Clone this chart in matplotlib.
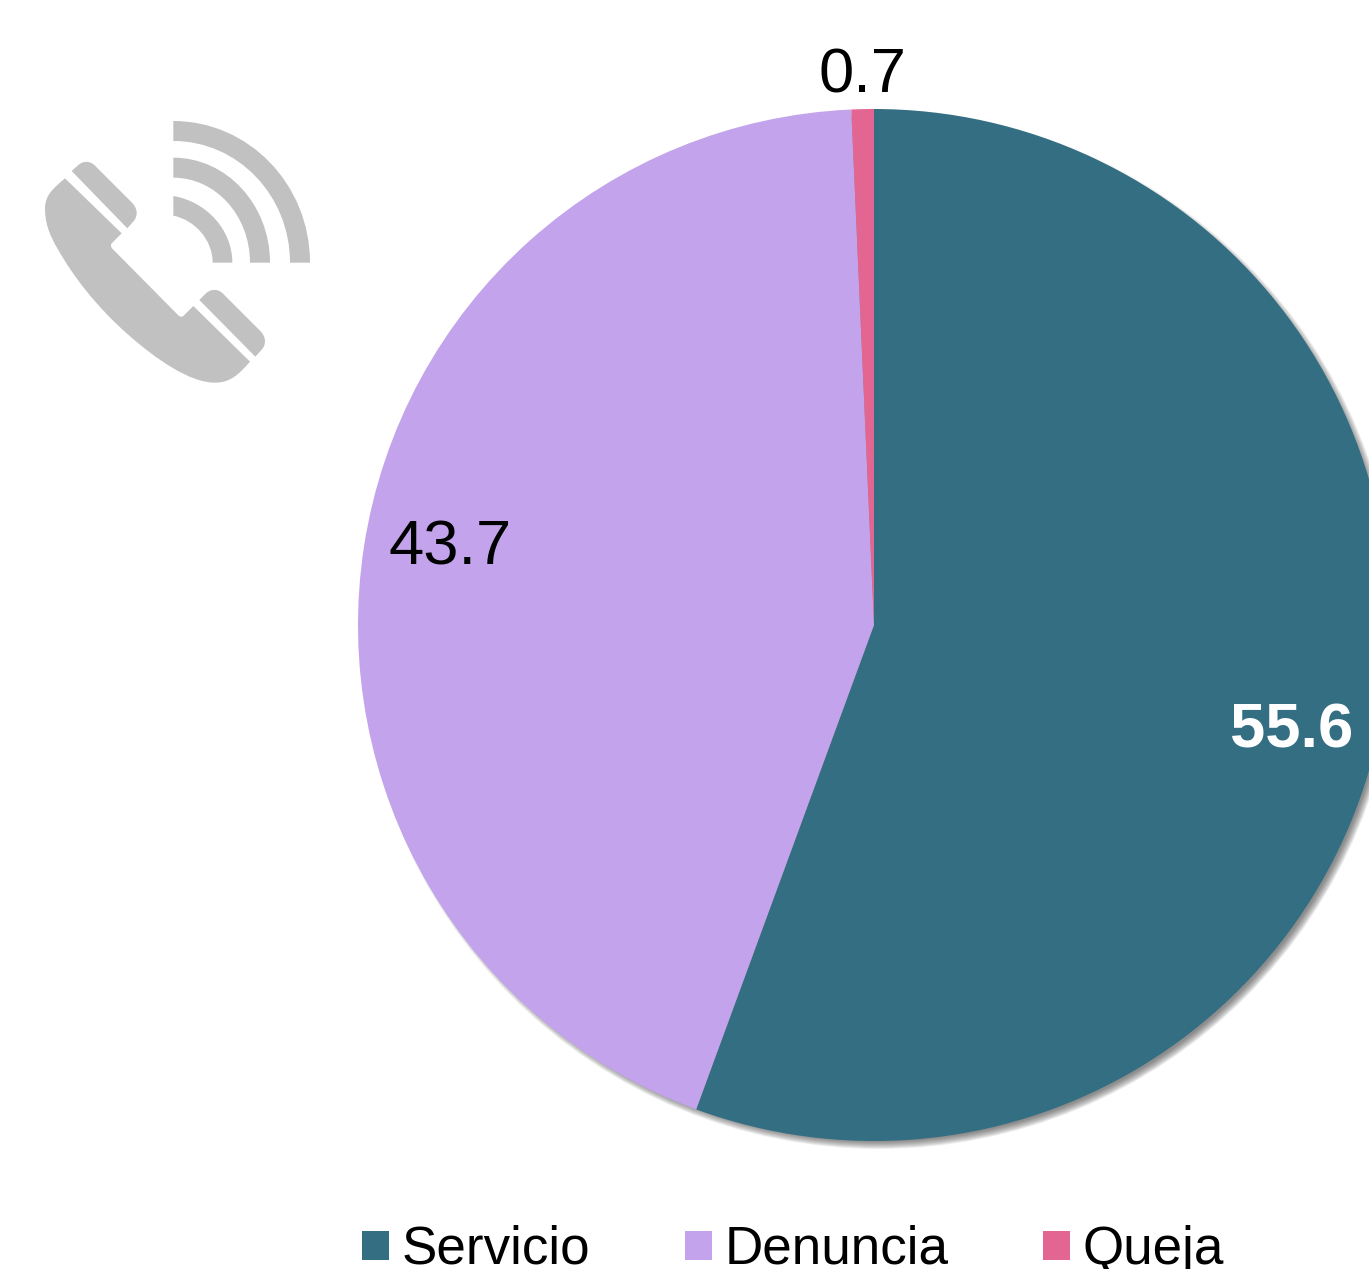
import matplotlib
matplotlib.use("Agg")
import matplotlib.pyplot as plt
from matplotlib.patches import Circle, PathPatch
from matplotlib.path import Path

categories = ["Servicio", "Denuncia", "Queja"]
values = [55.6, 43.7, 0.7]
colors = ["#336E82", "#C2A3EC", "#E36692"]

W, H = 1369, 1269
plt.rcParams['font.family'] = ['Liberation Sans', 'DejaVu Sans']

fig = plt.figure(figsize=(W / 100, H / 100), dpi=100)
ax = fig.add_axes([0, 0, 1, 1])


def py(y):
    # pixel y (from the top) to data y
    return H - y


# soft shadow under the pie
cx, cy, r = 874, py(625), 516
for i in range(12):
    ax.add_patch(Circle((cx + 5, cy - 5), r + 3 - i * 0.7,
                        color="#444444", alpha=0.07, lw=0, zorder=1))

wedges, _ = ax.pie(values, colors=colors, startangle=90, counterclock=False,
                   center=(cx, cy), radius=r, wedgeprops={"linewidth": 0, "zorder": 2})
ax.set_xlim(0, W)
ax.set_ylim(0, H)
ax.set_aspect("auto")
ax.axis("off")

# value labels
ax.text(1292, py(731), f"{values[0]:.1f}", color="white", fontsize=45.5, fontweight="bold",
        ha="center", va="center", zorder=5)
ax.text(450, py(548), f"{values[1]:.1f}", color="black", fontsize=45.5,
        ha="center", va="center", zorder=5)
ax.text(862, py(76), f"{values[2]:.1f}", color="black", fontsize=45.5,
        ha="center", va="center", zorder=5)

ax.legend(wedges, categories, ncol=3, frameon=False, fontsize=38.2,
          loc="lower left", bbox_to_anchor=(362 / W, -6 / H), bbox_transform=ax.transAxes,
          borderpad=0, borderaxespad=0, handlelength=0.51, handleheight=0.46,
          handletextpad=0.24, columnspacing=1.78, labelspacing=0)


def z(x, y):
    return (30 + x / 3, py(100 + y / 3))


def icon(cmds):
    verts, codes = [], []
    for c, pts in cmds:
        for p in pts:
            verts.append(z(*p))
        if c == "M":
            codes.append(Path.MOVETO)
        elif c == "L":
            codes += [Path.LINETO] * len(pts)
        elif c == "C":
            codes += [Path.CURVE4] * len(pts)
    verts.append(verts[0])
    codes.append(Path.CLOSEPOLY)
    ax.add_patch(PathPatch(Path(verts, codes), fc="#C1C1C1", ec="none", zorder=3))


icon([("M", [(105, 235)]), ("L", [(275, 400), (245, 430)]),
      ("C", [(241, 436), (243, 442), (248, 447)]), ("L", [(443, 644)]),
      ("C", [(449, 651), (456, 652), (461, 647)]), ("L", [(490, 618), (660, 785)]),
      ("C", [(625, 825), (600, 848), (555, 848)]),
      ("C", [(480, 848), (380, 780), (290, 700)]),
      ("C", [(200, 620), (130, 530), (85, 450)]),
      ("C", [(55, 400), (45, 365), (45, 325)]),
      ("C", [(45, 285), (70, 265), (105, 235)])])
icon([("M", [(125, 213)]), ("L", [(145, 195)]),
      ("C", [(160, 182), (180, 182), (195, 197)]), ("L", [(305, 307)]),
      ("C", [(322, 324), (325, 345), (312, 362)]), ("L", [(292, 385)])])
icon([("M", [(508, 600)]), ("L", [(528, 580)]),
      ("C", [(543, 566), (565, 566), (580, 582)]), ("L", [(690, 692)]),
      ("C", [(707, 709), (710, 730), (697, 747)]), ("L", [(676, 770)])])
# signal arcs
icon([("M", [(430, 63)]), ("C", [(656, 63), (840, 253), (840, 488)]), ("L", [(780, 488)]),
      ("C", [(780, 286), (623, 123), (430, 123)])])
icon([("M", [(430, 173)]), ("C", [(590, 173), (720, 314), (720, 488)]), ("L", [(660, 488)]),
      ("C", [(660, 347), (557, 233), (430, 233)])])
icon([("M", [(430, 288)]), ("C", [(530, 305), (607, 390), (607, 488)]), ("L", [(548, 488)]),
      ("C", [(548, 420), (495, 360), (430, 347)])])

fig.savefig("out.png", dpi=100, facecolor="white")
